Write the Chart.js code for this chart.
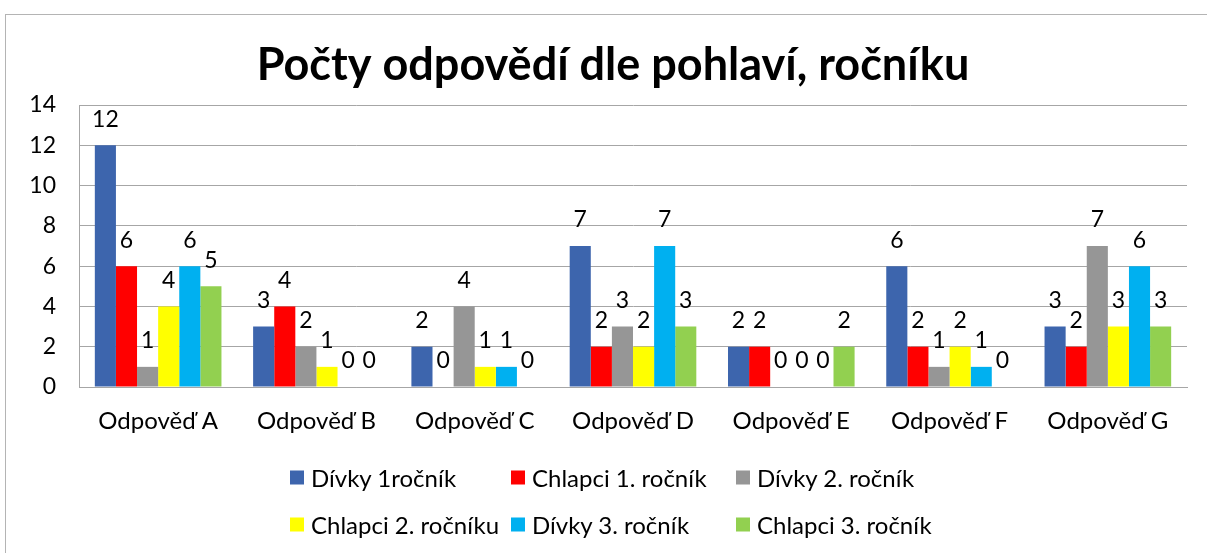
<!DOCTYPE html>
<html lang="cs">
<head>
<meta charset="utf-8">
<title>Počty odpovědí dle pohlaví, ročníku</title>
<script src="https://cdn.jsdelivr.net/npm/chart.js@4.4.1/dist/chart.umd.min.js"></script>
<style>
    html, body { margin: 0; padding: 0; background: #fff; }
    #wrap { position: relative; width: 1207px; height: 553px; overflow: hidden; }
    #frame {
        position: absolute; left: 5px; top: 14px; width: 1220px; height: 560px;
        border-left: 1px solid #b4b4b4; border-top: 1px solid #b4b4b4;
    }
    #chart { position: absolute; left: 0; top: 0; }
    .legend-item {
        position: absolute; display: flex; align-items: center;
        font-family: Lato, sans-serif; font-size: 24px; color: #000; white-space: nowrap;
        transform: translateY(-50%);
    }
    .legend-item span.box { width: 14px; height: 14px; margin-right: 7px; display: inline-block; }
</style>
</head>
<body>
<div id="wrap">
    <div id="frame"></div>
    <canvas id="chart" width="1207" height="553"></canvas>
    <div id="legend"></div>
</div>
<script>
// chart data
const categories = ['Odpověď A', 'Odpověď B', 'Odpověď C', 'Odpověď D', 'Odpověď E', 'Odpověď F', 'Odpověď G'];
const seriesNames = ['Dívky 1ročník', 'Chlapci 1. ročník', 'Dívky 2. ročník', 'Chlapci 2. ročníku', 'Dívky 3. ročník', 'Chlapci 3. ročník'];
const divky1 = [12, 3, 2, 7, 2, 6, 3];
const chlapci1 = [6, 4, 0, 2, 2, 2, 2];
const divky2 = [1, 2, 4, 3, 0, 1, 7];
const chlapci2 = [4, 1, 1, 2, 0, 2, 3];
const divky3 = [6, 0, 1, 7, 0, 1, 6];
const chlapci3 = [5, 0, 0, 3, 2, 0, 3];
const yTicks = [0, 2, 4, 6, 8, 10, 12, 14];

const seriesValues = [divky1, chlapci1, divky2, chlapci2, divky3, chlapci3];
const seriesColors = ['#3d65ad', '#ff0000', '#969696', '#ffff00', '#00b0f0', '#92d050'];

// legend placement (two rows of three like the original)
const legendCols = [290, 511, 736];
const legendRows = [477, 524];

const gridGray = '#a6a6a6';
const font = 'Lato';

// numbers above each bar
const valueLabels = {
    id: 'valueLabels',
    afterDatasetsDraw(chart) {
        const ctx = chart.ctx;
        ctx.save();
        ctx.font = '23px ' + font;
        ctx.fillStyle = '#000';
        ctx.textAlign = 'center';
        ctx.textBaseline = 'middle';
        chart.data.datasets.forEach((ds, i) => {
            chart.getDatasetMeta(i).data.forEach((bar, j) => {
                ctx.fillText(String(ds.data[j]), bar.x, bar.y - 26);
            });
        });
        ctx.restore();
    }
};

function buildLegend(chart) {
    const box = document.getElementById('legend');
    chart.data.datasets.forEach((ds, i) => {
        const item = document.createElement('div');
        item.className = 'legend-item';
        item.style.left = legendCols[i % 3] + 'px';
        item.style.top = legendRows[Math.floor(i / 3)] + 'px';
        const sw = document.createElement('span');
        sw.className = 'box';
        sw.style.background = ds.backgroundColor;
        item.appendChild(sw);
        item.appendChild(document.createTextNode(ds.label));
        box.appendChild(item);
    });
}

function drawChart() {
    const ctx = document.getElementById('chart').getContext('2d');
    const chart = new Chart(ctx, {
        type: 'bar',
        data: {
            labels: categories,
            datasets: seriesNames.map((name, i) => ({
                label: name,
                data: seriesValues[i],
                backgroundColor: seriesColors[i],
                borderWidth: 0
            }))
        },
        options: {
            responsive: false,
            animation: false,
            layout: { padding: { left: 19, right: 0, top: 0, bottom: 106 } },
            datasets: { bar: { categoryPercentage: 0.8, barPercentage: 1.0 } },
            plugins: {
                legend: { display: false },
                tooltip: { enabled: false },
                title: {
                    display: true,
                    text: 'Počty odpovědí dle pohlaví, ročníku',
                    color: '#000',
                    font: { family: font, size: 45, weight: 'bold', lineHeight: 1.2 },
                    padding: { top: 38, bottom: 13 }
                }
            },
            scales: {
                x: {
                    grid: { display: false, drawTicks: false },
                    border: { display: true, color: gridGray },
                    ticks: { color: '#000', font: { family: font, size: 24 }, padding: 20, maxRotation: 0 },
                    afterFit(scale) { scale.height = 60; }
                },
                y: {
                    min: 0,
                    max: 14,
                    grid: { color: gridGray, drawTicks: false },
                    border: { display: true, color: gridGray },
                    afterBuildTicks(scale) { scale.ticks = yTicks.map(v => ({ value: v })); },
                    ticks: { color: '#000', font: { family: font, size: 23 }, padding: 23 },
                    afterFit(scale) { scale.width = 60; }
                },
                // empty right-hand axis, only keeps the plot clear of the right edge
                yRight: {
                    position: 'right',
                    grid: { display: false, drawTicks: false },
                    border: { display: false },
                    ticks: { display: false },
                    afterFit(scale) { scale.width = 20; }
                }
            }
        },
        plugins: [valueLabels]
    });
    buildLegend(chart);
}

Promise.all([
    document.fonts.load('24px Lato'),
    document.fonts.load('bold 45px Lato')
]).then(drawChart, drawChart);
</script>
</body>
</html>
